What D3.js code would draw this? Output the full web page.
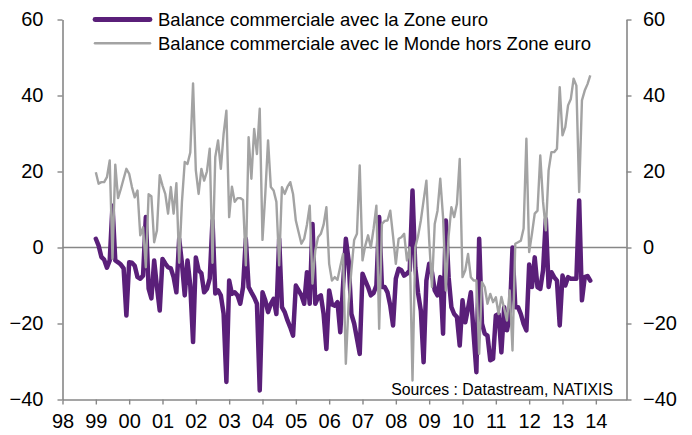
<!DOCTYPE html>
<html><head><meta charset="utf-8">
<script src="https://cdn.jsdelivr.net/npm/d3@7/dist/d3.min.js"></script>
<style>
body{margin:0;background:#fff}
svg{display:block}
text{font-family:"Liberation Sans",Arial,sans-serif;fill:#000}
</style>
</head><body>
<svg id="chart" width="692" height="435"></svg>
<script>
const yearLabels = ["98","99","00","01","02","03","04","05","06","07","08","09","10","11","12","13","14"];
const yearTicks = [1998,1999,2000,2001,2002,2003,2004,2005,2006,2007,2008,2009,2010,2011,2012,2013,2014];
const yTicks = [-40,-20,0,20,40,60];
const seriesNames = ["Balance commerciale avec la Zone euro","Balance commerciale avec le Monde hors Zone euro"];
const startYear = 1999; // monthly data from January 1999
const zoneEuro = [
2.3,0.5,-2.5,-3.2,-5.3,-3.4,11,-3.4,-3.9,-4.5,-5.5,-17.9,
-3.9,-4,-4.8,-7.8,-8.2,-7.4,8,-10.8,-13.4,-3.4,-10.4,-16.6,
-3,-4.2,-5.2,-5.5,-7.8,-11.8,2.3,-4.2,-12.6,-3.4,-10,-24.9,
-2.6,-6,-6.8,-11.8,-10.9,-8.2,7.1,-12.1,-11.3,-12.6,-17.4,-35.4,
-8.7,-12.2,-11.8,-12.6,-14.8,-10.4,2.3,-10.4,-11.8,-13.1,-14.8,-37.6,
-11.8,-13.9,-17,-14.8,-13.5,-17.5,2.3,-15.7,-17,-19.2,-21,-23.2,
-10,-11.3,-12.6,-14.8,-6.5,-14.8,6.2,-14.8,-13.1,-12.6,-17.5,-26.7,
-11.3,-15,-15.3,-14.4,-22.3,-10,2.3,-3.4,-17.5,-20,-24,-28,
-6.9,-8.7,-10.4,-12.6,-12,-10,8,-10.4,-10.4,-11.8,-15.3,-20.5,
-8.2,-5.6,-6,-7.4,-6.9,-6,15,-5.2,-12,-16.6,-30.2,-8.7,
-4.3,-6.5,-11.3,-12.6,-7.8,-22.7,7.1,-7.8,-15.7,-17.5,-18.3,-25.8,
-13.9,-19.7,-16,-11.8,-22.7,-32.8,2.3,-20,-22.7,-23.2,-29.7,-29.3,
-17.9,-17.5,-27.6,-15.7,-21.8,-18.3,0,-15.7,-15.7,-17.5,-20.1,-21.8,
-4.5,-10.4,-2.6,-10.4,-10.9,-6,7.5,-10.4,-6.5,-7.8,-8.7,-20.5,
-7.4,-10,-7.8,-8.2,-8.2,-8.2,12.4,-13.9,-7.8,-7.5,-8.7
];
const mondeHorsZE = [
19.8,16.8,17.2,17.2,18.5,22.9,-3,21.8,13,15.4,18.1,20.7,
19.4,15.9,13.2,15,3.2,5.3,-5.2,14,13.5,1.4,4.5,19,
16.3,14.1,8.9,15.9,8.9,16.9,-4,12,22.5,22,25,43.2,
20.3,14.1,20.7,17.6,20,26,-4,23.8,28.2,20.7,29.9,36,
8,16,12,13,13,12.5,-4.7,29,18.1,31.2,24.6,36.5,
2,14,28.2,15.9,15,12,-4.7,15.9,14.1,16,17.2,14.1,
7.1,4,1,2.3,6,11,-9.5,-0.8,2.7,3.6,6,10.6,
-4.3,-8.7,-7.8,-8.5,-5,-1.7,-30.6,-14.8,-6,2,3.6,21.6,
-3.4,0.5,3.2,0,5,11,-21.4,6.2,7,7.1,9.7,3,
-4.3,2.3,2.7,3.6,-3.4,0,-35,0,3,7.1,12.4,17.6,
2,-10.4,6.2,9.7,18.1,8,-11.3,3,10.6,8,11.5,23.3,
-7.8,-6,-1.7,-7.8,-8.7,-8.7,-28,-9.1,-10.4,-14.8,-12.2,-14.4,
-13.1,-17.5,-13,-16,-19.2,-11.3,-27.1,1,1.4,1.8,5,28.6,
-1.2,3.6,8.9,9.7,24.2,12,4.5,20.3,25.1,25.1,26,42.2,
29.5,31.7,37.4,39.1,44.4,42.6,14.6,38.7,41.3,43,45.3
];

const purple = "#5a1f79", grey = "#a3a3a3", axisGrey = "#878787";
const svg = d3.select("#chart");
const x = d3.scaleLinear().domain([1998, 2014.92]).range([62.5, 626.5]);
const y = d3.scaleLinear().domain([-40, 60]).range([399.5, 19.5]);

function styleAxis(g){
  g.selectAll("path.domain").attr("stroke", axisGrey).attr("stroke-width", 1.6);
  g.selectAll(".tick line").attr("stroke", axisGrey).attr("stroke-width", 1.4);
  g.selectAll(".tick text").attr("font-size", "20px").attr("font-family", "'Liberation Sans',Arial,sans-serif").attr("fill", "#000");
}

// zero line
svg.append("line").attr("x1", x(1998)).attr("x2", x(2014.92))
  .attr("y1", y(0)).attr("y2", y(0)).attr("stroke", axisGrey).attr("stroke-width", 1.6);

svg.append("g").attr("transform", `translate(${x(1998)},0)`)
  .call(d3.axisLeft(y).tickValues(yTicks).tickSize(5).tickSizeOuter(0).tickPadding(14).tickFormat(d3.format("d")))
  .call(styleAxis);
svg.append("g").attr("transform", `translate(${x(2014.92)},0)`)
  .call(d3.axisRight(y).tickValues(yTicks).tickSize(5).tickSizeOuter(0).tickPadding(11.5).tickFormat(d3.format("d")))
  .call(styleAxis);
svg.append("g").attr("transform", `translate(0,${y(-40)})`)
  .call(d3.axisBottom(x).tickValues(yearTicks).tickSize(5).tickSizeOuter(0).tickPadding(9.5).tickFormat((d,i)=>yearLabels[i]))
  .call(styleAxis);

const line = d3.line().x((d,i)=>x(startYear + i/12)).y(d=>y(d)).curve(d3.curveLinear);
svg.append("path").datum(zoneEuro).attr("d", line).attr("fill","none")
  .attr("stroke", purple).attr("stroke-width", 4.5).attr("stroke-linejoin","round").attr("stroke-linecap","round");
svg.append("path").datum(mondeHorsZE).attr("d", line).attr("fill","none")
  .attr("stroke", grey).attr("stroke-width", 2.4).attr("stroke-linejoin","round");

// legend
const leg = svg.append("g");
const legendRows = [{name: seriesNames[0], color: purple, w: 4.8, y: 19.5},
                    {name: seriesNames[1], color: grey, w: 2.5, y: 43.2}];
legendRows.forEach(r=>{
  leg.append("line").attr("x1", 95).attr("x2", 150).attr("y1", r.y).attr("y2", r.y)
    .attr("stroke", r.color).attr("stroke-width", r.w).attr("stroke-linecap","round");
  leg.append("text").attr("x", 158).attr("y", r.y).attr("dy", "0.35em")
    .attr("font-size", "18.5px").text(r.name);
});

svg.append("text").attr("x", 613).attr("y", 395).attr("text-anchor","end")
  .attr("font-size","15.8px").text("Sources : Datastream, NATIXIS");
</script>
</body></html>
